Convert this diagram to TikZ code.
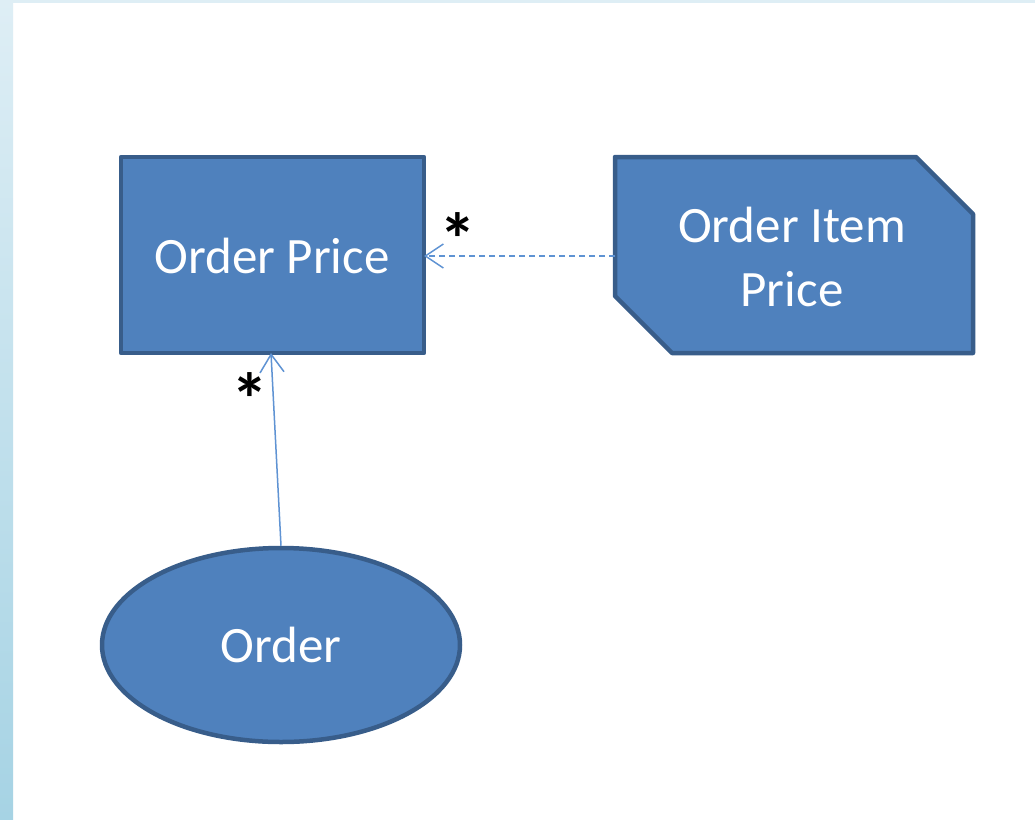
\documentclass[tikz,border=0pt]{standalone}
\usepackage{fontspec}
\setmainfont{Carlito}
\usetikzlibrary{arrows.meta,shapes.geometric}
\definecolor{shapefill}{HTML}{4F81BD}
\definecolor{shapeedge}{HTML}{385D8A}
\definecolor{linkblue}{HTML}{5F93D3}
\definecolor{stripTop}{HTML}{DEEEF5}
\definecolor{stripBot}{HTML}{A6D3E4}
\tikzset{
  shapebox/.style={fill=shapefill, draw=shapeedge, line width=4.5pt, line join=round},
  label/.style={text=white, font=\fontsize{51}{64}\selectfont, align=center},
  star/.style={text=black, font=\bfseries\fontsize{74}{74}\selectfont, inner sep=0pt},
  link/.style={draw=linkblue, line width=1.5pt, -{Straight Barb[length=18pt,width=24pt,line width=1.5pt]}},
}
\begin{document}
\begin{tikzpicture}[x=1pt,y=-1pt]
  % page background and side strip
  \useasboundingbox (0,0) rectangle (1035,819);
  \fill[white] (0,0) rectangle (1035,819);
  \shade[top color=stripTop, bottom color=stripBot] (0,0) rectangle (13,819);
  \fill[stripTop] (13,0) rectangle (1035,3);

  % Order Price
  \draw[shapebox] (121,157) rectangle (424,353);
  \node[label] (op) at (272,256) {Order Price};
  \coordinate (opE) at (424,256);
  \coordinate (opS) at (271,353);

  % Order Item Price (snipped corners)
  \draw[shapebox] (615,157) -- (916,157) -- (973,214) -- (973,353)
        -- (672,353) -- (615,296) -- cycle;
  \node[label] (oip) at (792,257) {Order Item\\Price};
  \coordinate (oipW) at (615,256);

  % Order
  \node[ellipse, shapebox, minimum width=358pt, minimum height=194pt,
        inner sep=0pt] (ord) at (281,645) {};
  \node[label] at (281,645) {Order};

  % connectors
  \draw[link, dashed, dash pattern=on 6pt off 4pt] (oipW) -- (opE);
  \draw[link] (ord.north) -- (opS);

  % multiplicities
  \node[star] (s1) at (458,239) {*};
  \node[star] (s2) at (250,399) {*};
\end{tikzpicture}
\end{document}
